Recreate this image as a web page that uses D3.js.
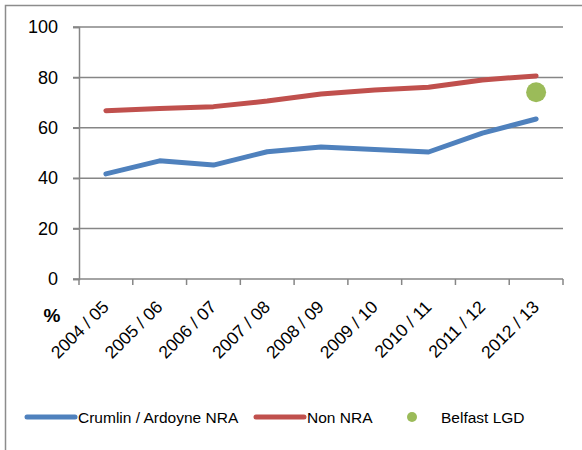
<!DOCTYPE html>
<html>
<head>
<meta charset="utf-8">
<script src="https://cdn.jsdelivr.net/npm/d3@7"></script>
<style>
  html, body { margin: 0; padding: 0; background: #fff; }
  svg { display: block; }
  text { font-family: "Liberation Sans", Arial, sans-serif; fill: #000; }
</style>
</head>
<body>
<svg id="chart" width="582" height="450"></svg>
<script>
const categories = ["2004 / 05","2005 / 06","2006 / 07","2007 / 08","2008 / 09","2009 / 10","2010 / 11","2011 / 12","2012 / 13"];
const crumlinValues = [41.7, 46.9, 45.2, 50.5, 52.4, 51.4, 50.4, 57.9, 63.5];
const nonNraValues = [66.8, 67.7, 68.4, 70.6, 73.4, 75.0, 76.1, 79.0, 80.6];
const belfastCategory = "2012 / 13";
const belfastValue = 74.1;
const yTicks = [0, 20, 40, 60, 80, 100];

const colors = { crumlin: "#4F81BD", nonNra: "#C0504D", belfast: "#9BBB59", grid: "#868686" };

const svg = d3.select("#chart");

// outer chart border (clipped at right and bottom like the reference)
svg.append("rect")
  .attr("x", 5.5).attr("y", 5.5).attr("width", 700).attr("height", 600)
  .attr("fill", "none").attr("stroke", "#8c8c8c").attr("stroke-width", 1.5);

const x = d3.scaleBand().domain(categories).range([79, 563]);
const y = d3.scaleLinear().domain([0, 100]).range([279, 27]);

// gridlines
svg.append("g").selectAll("line").data(yTicks).join("line")
  .attr("x1", 73).attr("x2", 563)
  .attr("y1", d => y(d)).attr("y2", d => y(d))
  .attr("stroke", colors.grid).attr("stroke-width", 1.5);

// y axis
const yAxis = svg.append("g").attr("transform", "translate(79,0)")
  .call(d3.axisLeft(y).tickValues(yTicks).tickSize(6).tickPadding(15));
yAxis.select(".domain").attr("stroke", colors.grid).attr("stroke-width", 1.5);
yAxis.selectAll(".tick line").attr("stroke", colors.grid).attr("stroke-width", 1.5);
yAxis.selectAll(".tick text").attr("font-size", 18).attr("font-family", "Liberation Sans, Arial, sans-serif").attr("fill", "#000");

// x axis tick marks at category boundaries
const boundaries = categories.map(c => x(c)).concat([x.range()[1]]);
svg.append("g").selectAll("line").data(boundaries).join("line")
  .attr("x1", d => d).attr("x2", d => d)
  .attr("y1", y(0)).attr("y2", y(0) + 6)
  .attr("stroke", colors.grid).attr("stroke-width", 1.5);

// x labels
svg.append("g").selectAll("text").data(categories).join("text")
  .attr("transform", d => `translate(${x(d) + x.bandwidth() / 2 + 4},${y(0) + 29}) rotate(-45)`)
  .attr("text-anchor", "end")
  .attr("font-size", 17.5)
  .text(d => d);

// % label
svg.append("text").attr("x", 52).attr("y", 322).attr("text-anchor", "middle")
  .attr("font-size", 19).attr("font-weight", "bold").text("%");

const cx = d => x(d) + x.bandwidth() / 2;
const line = d3.line().x(d => cx(d.c)).y(d => y(d.v));

svg.append("path")
  .datum(categories.map((c, i) => ({ c, v: nonNraValues[i] })))
  .attr("d", line).attr("fill", "none").attr("stroke", colors.nonNra)
  .attr("stroke-width", 5).attr("stroke-linecap", "round").attr("stroke-linejoin", "round");

svg.append("path")
  .datum(categories.map((c, i) => ({ c, v: crumlinValues[i] })))
  .attr("d", line).attr("fill", "none").attr("stroke", colors.crumlin)
  .attr("stroke-width", 5).attr("stroke-linecap", "round").attr("stroke-linejoin", "round");

svg.append("circle")
  .attr("cx", cx(belfastCategory)).attr("cy", y(belfastValue)).attr("r", 10)
  .attr("fill", colors.belfast);

// legend
const legend = svg.append("g").attr("font-size", 15.5);
const ly = 417;
legend.append("line").attr("x1", 27).attr("x2", 75).attr("y1", ly).attr("y2", ly)
  .attr("stroke", colors.crumlin).attr("stroke-width", 5).attr("stroke-linecap", "round");
legend.append("text").attr("x", 78).attr("y", ly + 5.5).text("Crumlin / Ardoyne NRA");
legend.append("line").attr("x1", 256).attr("x2", 304).attr("y1", ly).attr("y2", ly)
  .attr("stroke", colors.nonNra).attr("stroke-width", 5).attr("stroke-linecap", "round");
legend.append("text").attr("x", 307).attr("y", ly + 5.5).text("Non NRA");
legend.append("circle").attr("cx", 412).attr("cy", ly).attr("r", 5).attr("fill", colors.belfast);
legend.append("text").attr("x", 441).attr("y", ly + 5.5).text("Belfast LGD");
</script>
</body>
</html>
